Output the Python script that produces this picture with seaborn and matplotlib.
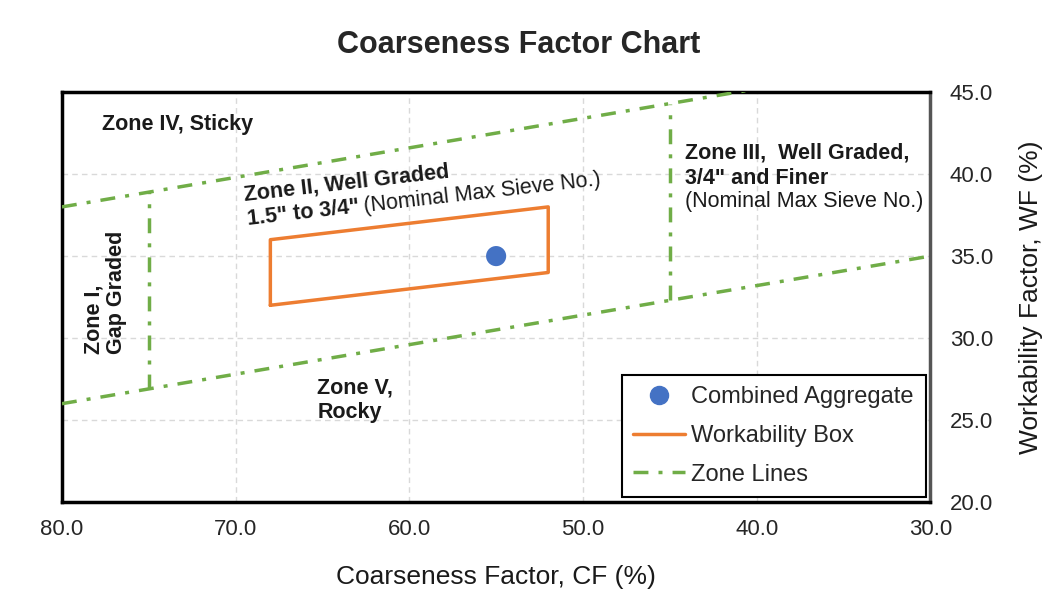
import matplotlib
matplotlib.use("Agg")
import matplotlib.pyplot as plt
import seaborn as sns
import pandas as pd
from matplotlib.lines import Line2D

# datos
agg_cf = [55.0]
agg_wf = [35.0]

box_cf = [68.0, 68.0, 52.0, 52.0, 68.0]
box_wf = [32.0, 36.0, 38.0, 34.0, 32.0]

upper_cf = [80.0, 30.0]
upper_wf = [38.0, 47.0]
lower_cf = [80.0, 30.0]
lower_wf = [26.0, 35.0]
zone1_cf = [75.0, 75.0]
zone1_wf = [26.9, 38.9]
zone3_cf = [45.0, 45.0]
zone3_wf = [32.3, 44.3]

x_ticks = [80, 70, 60, 50, 40, 30]
y_ticks = [20, 25, 30, 35, 40, 45]

sns.set_style("white")
plt.rcParams['font.family'] = ['Liberation Sans', 'DejaVu Sans']

azul = '#4472C4'
naranja = '#ED7D31'
verde = '#70AD47'
texto = '#1a1a1a'
dash_zona = (0, (4.3, 2.9, 1.15, 2.9))

fig = plt.figure(figsize=(10.5, 6.02), dpi=100)
ax = fig.add_axes([0.059, 0.166, 0.827, 0.681])

# lineas de zona
for cf, wf in [(upper_cf, upper_wf), (lower_cf, lower_wf), (zone1_cf, zone1_wf), (zone3_cf, zone3_wf)]:
    df = pd.DataFrame({'cf': cf, 'wf': wf})
    sns.lineplot(data=df, x='cf', y='wf', sort=False, estimator=None, errorbar=None, ax=ax,
                 color=verde, linewidth=2.5, linestyle=dash_zona, zorder=3)

# caja de trabajabilidad
caja = pd.DataFrame({'cf': box_cf, 'wf': box_wf})
sns.lineplot(data=caja, x='cf', y='wf', sort=False, estimator=None, errorbar=None, ax=ax,
             color=naranja, linewidth=2.5, zorder=4)

# agregado combinado
agg = pd.DataFrame({'cf': agg_cf, 'wf': agg_wf})
sns.scatterplot(data=agg, x='cf', y='wf', ax=ax, color=azul, s=210, edgecolor='none', zorder=5)

ax.set_xlim(80, 30)
ax.set_ylim(20, 45)
ax.set_xticks(x_ticks)
ax.set_xticklabels([f'{v:.1f}' for v in x_ticks])
ax.set_yticks(y_ticks)
ax.set_yticklabels([f'{v:.1f}' for v in y_ticks])
ax.yaxis.tick_right()
ax.yaxis.set_label_position('right')
ax.tick_params(axis='x', length=0, pad=12, labelsize=16, colors='#262626')
ax.tick_params(axis='y', length=0, pad=14, labelsize=16, colors='#262626')
ax.set_xlabel('Coarseness Factor, CF (%)', fontsize=19, labelpad=18, color='#1a1a1a')
ax.set_ylabel('Workability Factor, WF (%)', fontsize=19, labelpad=19, color='#1a1a1a')
ax.grid(True, color='#d9d9d9', linestyle=(0, (4, 3)), linewidth=1)
ax.set_axisbelow(True)
for sp in ax.spines.values():
    sp.set_visible(True)
    sp.set_color('black')
    sp.set_linewidth(2.5)
ax.spines['right'].set_color('#555555')

# textos de zonas
fs = 15.5
ax.text(77.7, 42.68, 'Zone IV, Sticky', fontsize=fs, fontweight='bold', va='baseline', ha='left', color=texto)
ax.text(69.5, 38.4, 'Zone II, Well Graded', fontsize=fs, fontweight='bold', rotation=6.5,
        rotation_mode='anchor', ha='left', va='baseline', color=texto)
ax.text(69.3, 36.9, '1.5" to 3/4"', fontsize=fs, fontweight='bold', rotation=6.5,
        rotation_mode='anchor', ha='left', va='baseline', color=texto)
ax.text(62.6, 37.7, '(Nominal Max Sieve No.)', fontsize=fs, rotation=6.5,
        rotation_mode='anchor', ha='left', va='baseline', color=texto)
ax.text(44.1, 40.95, 'Zone III,  Well Graded,', fontsize=fs, fontweight='bold',
        ha='left', va='baseline', color=texto)
ax.text(44.1, 39.42, '3/4" and Finer', fontsize=fs, fontweight='bold',
        ha='left', va='baseline', color=texto)
ax.text(44.1, 38.0, '(Nominal Max Sieve No.)', fontsize=fs, ha='left', va='baseline', color=texto)
ax.text(77.5, 32.8, 'Zone I,\nGap Graded', fontsize=fs, fontweight='bold', rotation=90,
        ha='center', va='center', multialignment='left', linespacing=1.1, color=texto)
ax.text(65.3, 26.6, 'Zone V,', fontsize=fs, fontweight='bold', ha='left', va='baseline', color=texto)
ax.text(65.3, 25.15, 'Rocky', fontsize=fs, fontweight='bold', ha='left', va='baseline', color=texto)

fig.text(0.494, 0.926, 'Coarseness Factor Chart', fontsize=22, fontweight='bold', ha='center', va='center')

handles = [
    Line2D([], [], marker='o', color=azul, linestyle='none', markersize=13),
    Line2D([], [], color=naranja, linewidth=2.5),
    Line2D([], [], color=verde, linewidth=2.5, linestyle=dash_zona),
]
leg = ax.legend(handles, ['Combined Aggregate', 'Workability Box', 'Zone Lines'], loc='lower right',
                fontsize=17, frameon=True, fancybox=False, framealpha=1, edgecolor='black',
                borderaxespad=0.2, handlelength=2.2, handletextpad=0.25, labelspacing=0.7,
                borderpad=0.5)
leg.get_frame().set_linewidth(1.5)

fig.savefig('out.png', dpi=100)
